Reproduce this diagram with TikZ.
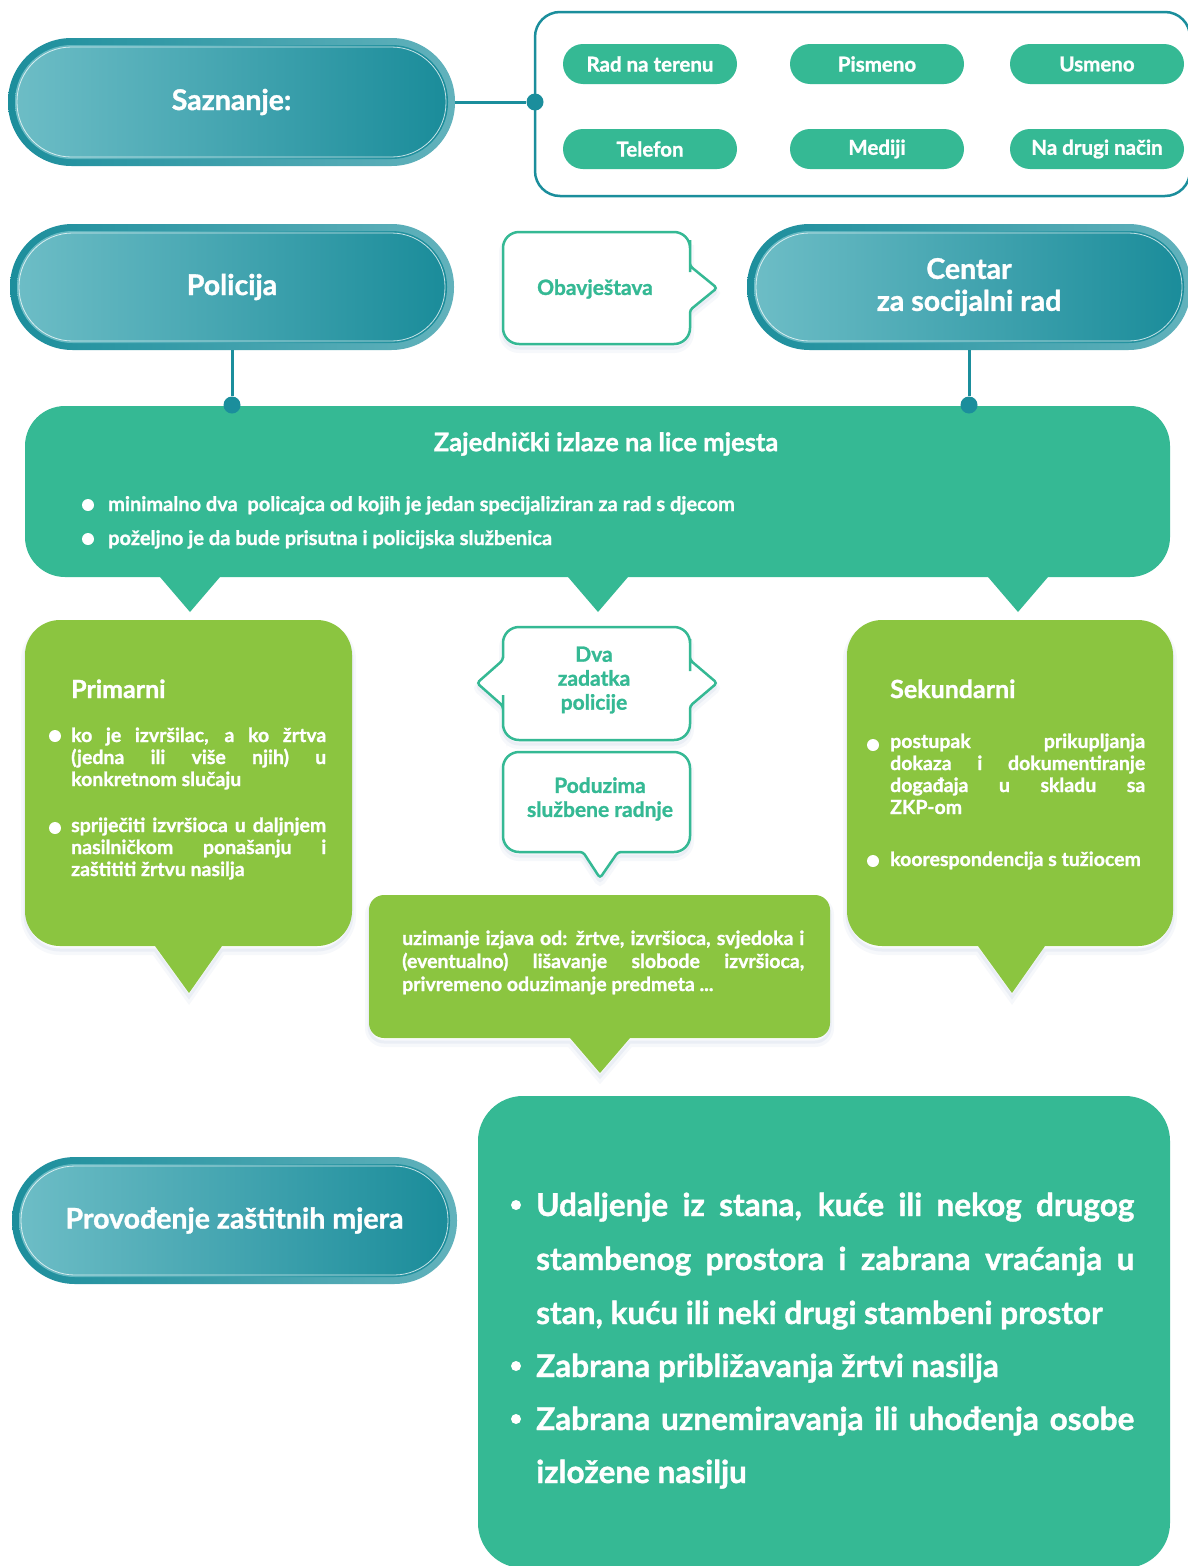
\documentclass[tikz,border=0pt]{standalone}
\usepackage{fontspec}
\setmainfont{Lato}[BoldFeatures={FakeBold=1.2}]
\usetikzlibrary{shapes.misc}
\definecolor{tealc}{HTML}{1B8E9C}
\definecolor{ringL}{HTML}{1C8E9C}
\definecolor{ringR}{HTML}{62B2BC}
\definecolor{fillL}{HTML}{6DBDC6}
\definecolor{fillR}{HTML}{1A8C9A}
\definecolor{gA}{HTML}{35B994}
\definecolor{gB}{HTML}{8BC540}
\definecolor{shad}{HTML}{8A9CC8}
\newcommand\fs[2]{\fontsize{#1}{#2}\selectfont}
\tikzset{
  conn/.style={draw=tealc, line width=3pt},
  tdot/.style={circle, fill=tealc, inner sep=0pt, minimum size=17pt},
  pilltext/.style={text=white, align=center, inner sep=0pt, font=\bfseries\fs{28.5}{32}},
  smallpill/.style={rounded rectangle, fill=gA, text=white, minimum width=174pt, minimum height=40pt, inner sep=0pt, font=\bfseries\fs{20.5}{22}},
  softshadow/.style={preaction={draw=shad, line width=8pt, opacity=0.07, transform canvas={yshift=-5pt}},
                     preaction={draw=shad, line width=3pt, opacity=0.10, transform canvas={yshift=-4pt}}},
  callout/.style={softshadow, draw=gA, line width=2.5pt, fill=white},
  calltext/.style={text=gA, align=center, inner sep=0pt, font=\bfseries\fs{21}{24}},
  wtext/.style={text=white, inner sep=0pt, anchor=base west},
  bul/.style={circle, fill=white, inner sep=0pt, minimum size=12pt},
}
\newcommand\tealpill[6]{%
  \pgfmathsetmacro\rA{#5-0.5}%
  \pgfmathsetmacro\rB{#5-7.5}%
  \pgfmathsetmacro\rC{#5-9.5}%
  \path[rounded corners=\rA pt, left color=ringL, right color=ringR] (#2-#4,#3-#5) rectangle (#2+#4,#3+#5);
  \path[rounded corners=\rB pt, left color=fillL, right color=fillR] (#2-#4+7,#3-#5+7) rectangle (#2+#4-7,#3+#5-7);
  \draw[white, opacity=.75, line width=.8pt, rounded corners=\rC pt] (#2-#4+9,#3-#5+9) rectangle (#2+#4-9,#3+#5-9);
  \node[pilltext, minimum width=2*#4, minimum height=2*#5] (#1) at (#2,#3) {#6};
}
\begin{document}
\begin{tikzpicture}[x=1pt,y=-1pt]
\useasboundingbox (0,0) rectangle (1187,1566);
\fill[white] (0,0) rectangle (1187,1566);

% ---- Saznanje
\tealpill{saz}{231.5}{102}{223.5}{64}{Saznanje:}
\draw[tealc, line width=2.5pt, rounded corners=25pt] (535,12) rectangle (1190,196);
\node[tdot] (dsaz) at (535,102) {};
\draw[conn] (saz.east) -- (dsaz);
\node[smallpill] (p1) at (650,64) {Rad na terenu};
\node[smallpill] (p2) at (877,64) {Pismeno};
\node[smallpill] (p3) at (1097,64) {Usmeno};
\node[smallpill] (p4) at (650,149) {Telefon};
\node[smallpill] (p5) at (877,149) {Mediji};
\node[smallpill] (p6) at (1097,149) {Na drugi način};

% ---- Policija / Centar
\tealpill{pol}{232}{287}{222}{63}{Policija}
\tealpill{csr}{969}{287}{222}{63}{Centar\\za socijalni rad}

\path[callout] (597,232) [rounded corners=16pt] -- (690,232) -- (690,256) [rounded corners=3pt] -- (690,266) -- (717,288) -- (690,310) -- (690,320) [rounded corners=16pt] -- (690,344) -- (503,344) -- (503,232) -- cycle;
\node[calltext] (obav) at (595,289) {Obavještava};

% ---- Zajednicki
\path[fill=gA] (600,406) [rounded corners=40pt] -- (1170,406) -- (1170,577) -- (1080,577) [sharp corners] -- (1048,577) -- (1018,612) -- (988,577) -- (628,577) -- (598,612) -- (568,577) -- (220,577) -- (190,612) -- (160,577) -- (110,577) [rounded corners=40pt] -- (25,577) -- (25,406) -- cycle;
\node[tdot] (dpol) at (232,405) {};
\node[tdot] (dcsr) at (969,405) {};
\draw[conn] (pol.south -| dpol) -- (dpol);
\draw[conn] (csr.south -| dcsr) -- (dcsr);
\node[text=white, inner sep=0pt, font=\bfseries\fs{25.5}{28}] (zaj) at (606,444) {Zajednički izlaze na lice mjesta};
\node[bul] (zb1) at (88,505) {};
\node[bul] (zb2) at (88,539) {};
\node[wtext, font=\bfseries\fs{20}{22}] (zt1) at (108,511) {minimalno dva\ \ policajca od kojih je jedan specijaliziran za rad s djecom};
\node[wtext, font=\bfseries\fs{20}{22}] (zt2) at (108,545) {poželjno je da bude prisutna i policijska službenica};

% ---- Primarni
\path[softshadow, fill=gB] (190,620) [rounded corners=35pt] -- (352,620) -- (352,946) -- (250,946) [sharp corners] -- (222,946) -- (189,993) -- (155,946) -- (120,946) [rounded corners=35pt] -- (25,946) -- (25,620) -- cycle;
\node[wtext, font=\bfseries\fs{25}{28}] (prt) at (71,698) {Primarni};
\node[bul] (pb1) at (55,736) {};
\node[bul] (pb2) at (55,828) {};
\begin{scope}[every node/.style={wtext, font=\bfseries\fs{19.5}{22}}]
\node (pl1) at (71,742) {\makebox[255pt][s]{ko je izvršilac, a ko žrtva}};
\node (pl2) at (71,764) {\makebox[255pt][s]{(jedna ili više njih) u}};
\node (pl3) at (71,786) {konkretnom slučaju};
\node (pl4) at (71,832) {\makebox[255pt][s]{spriječiti izvršioca u daljnjem}};
\node (pl5) at (71,854) {\makebox[255pt][s]{nasilničkom ponašanju i}};
\node (pl6) at (71,876) {zaštititi žrtvu nasilja};
\end{scope}

% ---- Dva zadatka
\path[callout] (597,627) [rounded corners=16pt] -- (690,627) -- (690,655) [rounded corners=3pt] -- (690,660) -- (717,683) -- (690,706) -- (690,711) [rounded corners=16pt] -- (690,740) -- (503,740) -- (503,711) [rounded corners=3pt] -- (503,706) -- (477,683) -- (503,660) -- (503,655) [rounded corners=16pt] -- (503,627) -- cycle;
\node[calltext] (dva) at (594,680) {Dva\\zadatka\\policije};

\path[callout] (597,752) [rounded corners=16pt] -- (690,752) -- (690,852) -- (640,852) [rounded corners=3pt] -- (618,852) -- (600,878) -- (583,852) -- (560,852) [rounded corners=16pt] -- (503,852) -- (503,752) -- cycle;
\node[calltext] (pod) at (600,799) {Poduzima\\službene radnje};

% ---- Sekundarni
\path[softshadow, fill=gB] (1010,620) [rounded corners=35pt] -- (1173,620) -- (1173,946) -- (1070,946) [sharp corners] -- (1045,946) -- (1012,993) -- (978,946) -- (950,946) [rounded corners=35pt] -- (847,946) -- (847,620) -- cycle;
\node[wtext, font=\bfseries\fs{25}{28}] (sekt) at (890,698) {Sekundarni};
\node[bul] (sb1) at (873,745) {};
\node[bul] (sb2) at (873,861) {};
\begin{scope}[every node/.style={wtext, font=\bfseries\fs{19.5}{22}}]
\node (sl1) at (890,748) {\makebox[255pt][s]{postupak prikupljanja}};
\node (sl2) at (890,770) {\makebox[255pt][s]{dokaza i dokumentiranje}};
\node (sl3) at (890,792) {\makebox[255pt][s]{događaja u skladu sa}};
\node (sl4) at (890,814) {ZKP-om};
\node (sl5) at (890,866) {koorespondencija s tužiocem};
\end{scope}

% ---- Bottom middle
\path[softshadow, fill=gB] (600,895) [rounded corners=15pt] -- (830,895) -- (830,1038) -- (660,1038) [sharp corners] -- (630,1038) -- (600,1073) -- (570,1038) -- (540,1038) [rounded corners=15pt] -- (369,1038) -- (369,895) -- cycle;
\begin{scope}[every node/.style={wtext, font=\bfseries\fs{19.5}{23}}]
\node (ml1) at (402,945) {\makebox[402pt][s]{uzimanje izjava od: žrtve, izvršioca, svjedoka i}};
\node (ml2) at (402,968) {\makebox[402pt][s]{(eventualno) lišavanje slobode izvršioca,}};
\node (ml3) at (402,991) {privremeno oduzimanje predmeta ...};
\end{scope}

% ---- Provodjenje
\tealpill{prov}{234.5}{1220.5}{222.5}{63.5}{Provođenje zaštitnih mjera}

\path[fill=gA] (800,1096) [rounded corners=45pt] -- (1170,1096) -- (1170,1568) -- (478,1568) -- (478,1096) -- cycle;
\node[bul, minimum size=10pt] (bb1) at (516,1205) {};
\node[bul, minimum size=10pt] (bb2) at (516,1366) {};
\node[bul, minimum size=10pt] (bb3) at (516,1419) {};
\begin{scope}[every node/.style={wtext, font=\bfseries\fs{31.5}{34}}]
\node (bl1) at (536,1216) {\makebox[598pt][s]{Udaljenje iz stana, kuće ili nekog drugog}};
\node (bl2) at (536,1270) {\makebox[598pt][s]{stambenog prostora i zabrana vraćanja u}};
\node (bl3) at (536,1324) {stan, kuću ili neki drugi stambeni prostor};
\node (bl4) at (536,1377) {Zabrana približavanja žrtvi nasilja};
\node (bl5) at (536,1430) {\makebox[598pt][s]{Zabrana uznemiravanja ili uhođenja osobe}};
\node (bl6) at (536,1483) {izložene nasilju};
\end{scope}
\end{tikzpicture}
\end{document}
